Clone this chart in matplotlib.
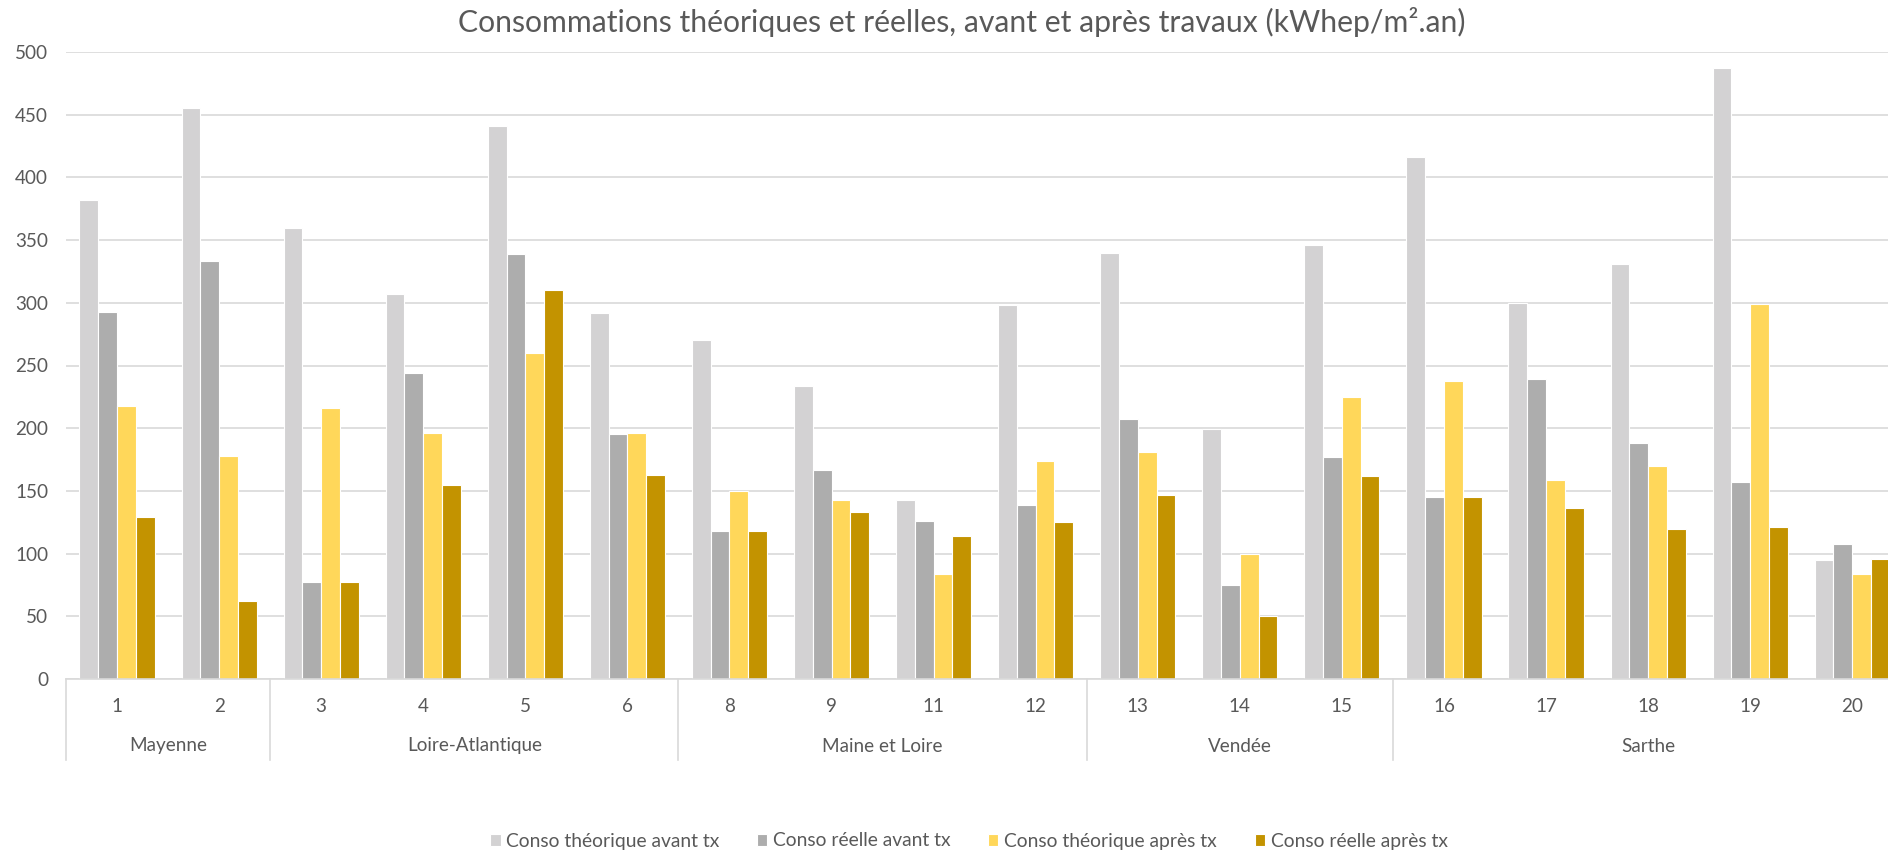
import numpy as np
import matplotlib
matplotlib.use("Agg")
import matplotlib.pyplot as plt
from matplotlib.transforms import blended_transform_factory

plt.rcParams['font.family'] = ['Lato', 'DejaVu Sans']

# ---- data ----
categories = ["1", "2", "3", "4", "5", "6", "8", "9", "11", "12",
              "13", "14", "15", "16", "17", "18", "19", "20"]
groups = ["Mayenne", "Loire-Atlantique", "Maine et Loire", "Vendée", "Sarthe"]
group_sizes = [2, 4, 4, 3, 5]

theo_avant = [382, 455, 360, 307, 441, 292, 270, 234, 143, 298, 340, 199, 346, 416, 300, 331, 487, 95]
reel_avant = [293, 333, 77, 244, 339, 195, 118, 167, 126, 139, 207, 75, 177, 145, 239, 188, 157, 108]
theo_apres = [218, 178, 216, 196, 260, 196, 150, 143, 84, 174, 181, 100, 225, 238, 159, 170, 299, 84]
reel_apres = [129, 62, 77, 155, 310, 163, 118, 133, 114, 125, 147, 50, 162, 145, 136, 120, 121, 96]

series_labels = ["Conso théorique avant tx", "Conso réelle avant tx",
                 "Conso théorique après tx", "Conso réelle après tx"]
series_colors = ["#D3D2D3", "#ADADAD", "#FFD75A", "#C39300"]
title = "Consommations théoriques et réelles, avant et après travaux (kWhep/m\u00b2.an)"

W, H = 1888, 851
TXT = "#595959"
GRID = "#D9D9D9"
FS = 13.6

fig = plt.figure(figsize=(W / 100, H / 100), dpi=100)
ax_left, ax_bottom_px, ax_top_px = 66, 679, 52
cat_w = 102.07
ax = fig.add_axes([ax_left / W, 1 - ax_bottom_px / H,
                   len(categories) * cat_w / W, (ax_bottom_px - ax_top_px) / H])

x = np.arange(len(categories))
bw = 0.184
all_series = [theo_avant, reel_avant, theo_apres, reel_apres]
handles = []
for i, (vals, col, lab) in enumerate(zip(all_series, series_colors, series_labels)):
    b = ax.bar(x + (i - 1.5) * bw, vals, width=bw, color=col,
               edgecolor="white", linewidth=0.8, label=lab, zorder=2)
    handles.append(b)

ax.set_xlim(-0.5, len(categories) - 0.5)
ax.set_ylim(0, 500)
ax.set_yticks(np.arange(0, 501, 50))
ax.yaxis.grid(True, color=GRID, linewidth=1.2, zorder=0)
ax.set_axisbelow(True)
for s in ["top", "left", "right"]:
    ax.spines[s].set_visible(False)
ax.spines["bottom"].set_color(GRID)
ax.spines["bottom"].set_linewidth(1.2)
ax.tick_params(axis="y", length=0, pad=13, labelcolor=TXT, labelsize=FS)
ax.set_xticks([])

trans = blended_transform_factory(ax.transData, ax.transAxes)
ax_h = ax_bottom_px - ax_top_px
y_num = -(707 - ax_bottom_px) / ax_h
y_grp = -(746 - ax_bottom_px) / ax_h
y_line = -(760 - ax_bottom_px) / ax_h

for xi, c in zip(x, categories):
    ax.text(xi, y_num, c, transform=trans, ha="center", va="center",
            color=TXT, fontsize=FS, clip_on=False)

start = 0
seps = [-0.5]
for g, n in zip(groups, group_sizes):
    center = start + (n - 1) / 2
    ax.text(center, y_grp, g, transform=trans, ha="center", va="center",
            color=TXT, fontsize=FS, clip_on=False)
    start += n
    seps.append(start - 0.5)
for sx in seps:
    ax.plot([sx, sx], [0, y_line], transform=trans, color=GRID,
            linewidth=1.2, clip_on=False)

fig.text(961.5 / W, 1 - 22 / H, title, ha="center", va="center",
         color=TXT, fontsize=21.7)

fig.legend(handles, series_labels, loc="center",
           bbox_to_anchor=(969 / W, 1 - 841 / H), ncol=4, frameon=False,
           fontsize=FS + 0.3, handlelength=0.52, handleheight=0.6,
           handletextpad=0.3, columnspacing=1.95, labelcolor=TXT)

fig.savefig("out.png", dpi=100)
